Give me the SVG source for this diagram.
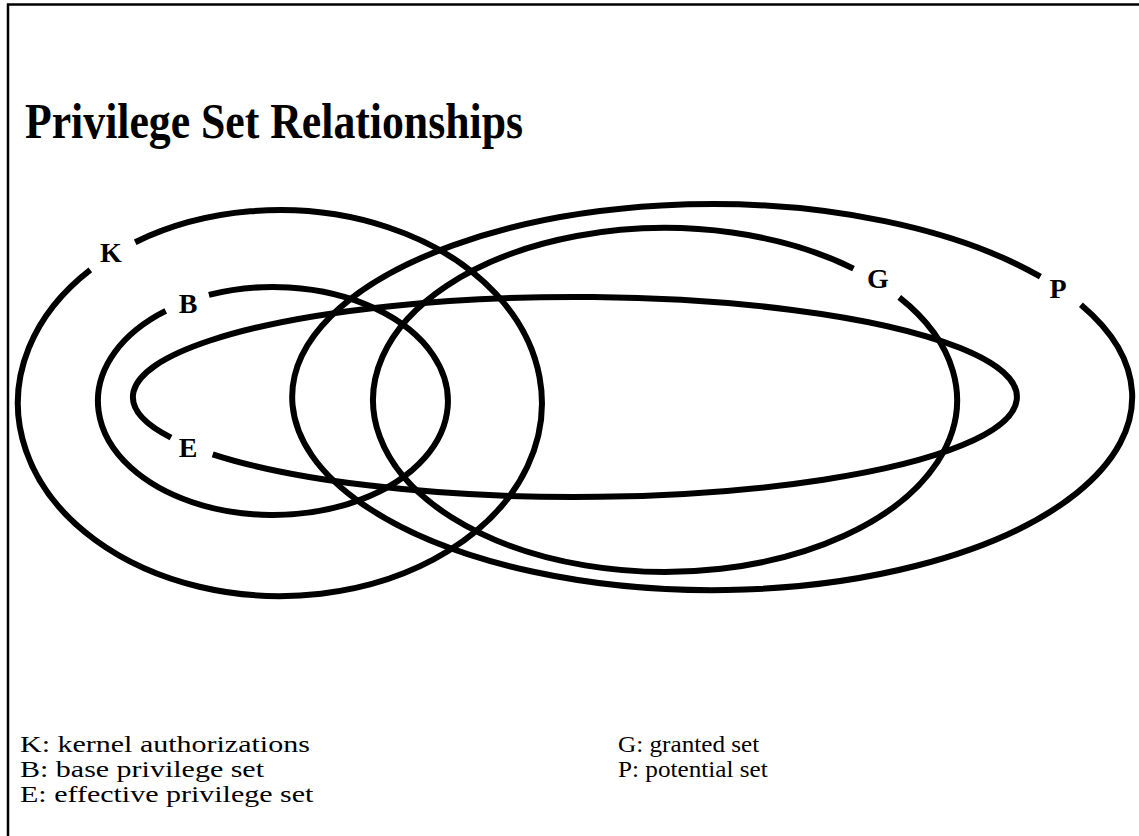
<svg xmlns="http://www.w3.org/2000/svg" width="1139" height="836" viewBox="0 0 1139 836">
<style>
.set{fill:none;stroke:#000;stroke-width:6;stroke-linecap:butt}
.lbl{font-family:"Liberation Serif","Times New Roman",serif;font-size:28px;fill:#000;text-anchor:middle;font-weight:bold}
.leg{font-family:"Liberation Serif","Times New Roman",serif;font-size:24px;fill:#000}
.title{font-family:"Liberation Serif","Times New Roman",serif;font-size:50px;font-weight:bold;fill:#000}
.frame{fill:none;stroke:#000;stroke-width:2.5}
</style>
<rect width="1139" height="836" fill="#fff"/>
<path class="frame" d="M8,836 V4.5 H1139"/>
<text class="title" x="25" y="138" textLength="498" lengthAdjust="spacingAndGlyphs">Privilege Set Relationships</text>
<g id="connectors"></g>
<g id="K"><path class="set" d="M135.2,242.2 A262,193 0 1 1 90.3,269.9"/><text class="lbl" x="111" y="262">K</text></g>
<g id="B"><path class="set" d="M208.9,294.9 A175,114 0 1 1 165.7,310.9"/><text class="lbl" x="188" y="313">B</text></g>
<g id="E"><path class="set" d="M171,437.6 A442,100 0 1 1 212.7,454.3"/><text class="lbl" x="188" y="457">E</text></g>
<g id="G"><path class="set" d="M899.3,297.3 A292,172 0 1 1 853.5,268.6"/><text class="lbl" x="878" y="288">G</text></g>
<g id="P"><path class="set" d="M1080.9,304.7 A420,193 0 1 1 1040.4,276.7"/><text class="lbl" x="1058" y="298">P</text></g>
<g id="legend">
<text class="leg" transform="translate(20,752) scale(1.25,1)">K: kernel authorizations</text>
<text class="leg" transform="translate(20,777) scale(1.25,1)">B: base privilege set</text>
<text class="leg" transform="translate(20,802) scale(1.25,1)">E: effective privilege set</text>
<text class="leg" transform="translate(618,752) scale(1.05,1)">G: granted set</text>
<text class="leg" transform="translate(618,777) scale(1.05,1)">P: potential set</text>
</g>
</svg>
